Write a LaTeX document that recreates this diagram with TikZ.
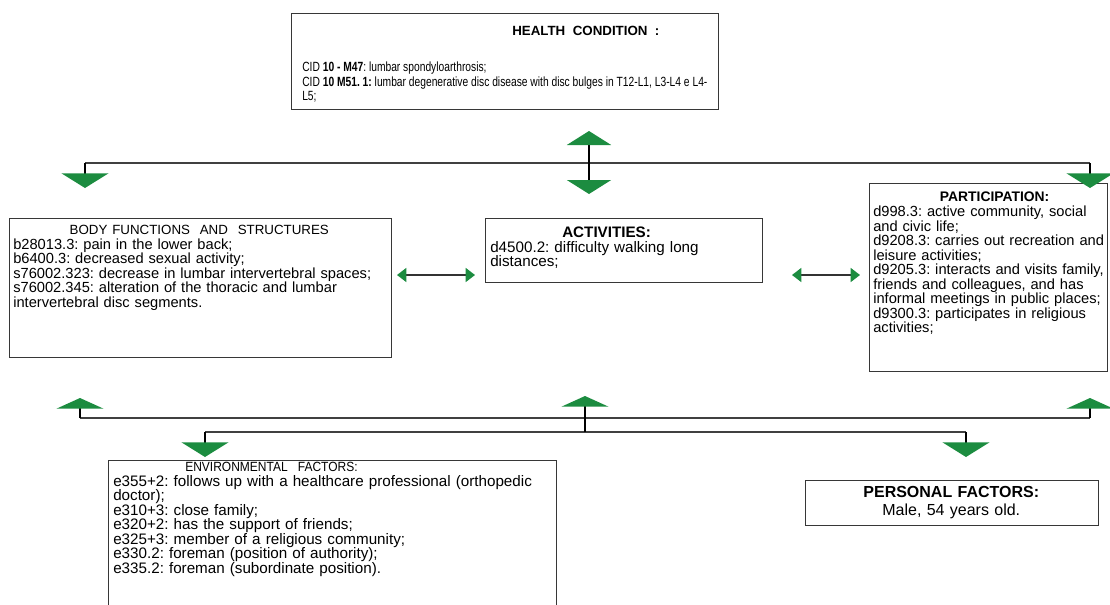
\documentclass[tikz,border=0pt]{standalone}
\usepackage{fontspec}
\setmainfont{Liberation Sans}
\newfontfamily\narrowsf[FakeStretch=0.77]{Liberation Sans}
\newfontfamily\slimsf[FakeStretch=0.9]{Liberation Sans}
\usetikzlibrary{arrows.meta, positioning}

\definecolor{icfgreen}{RGB}{28,140,64}
\definecolor{boxline}{RGB}{55,55,55}

\begin{document}
\frenchspacing
\begin{tikzpicture}[x=0.75pt, y=-0.75pt,
  box/.style={draw=boxline, line width=0.9pt, anchor=north west, inner sep=0pt},
  txt/.style={anchor=north west, inner sep=0pt, align=left,
              font=\fontsize{11}{10.9}\selectfont},
  link/.style={draw=black!75, line width=0.9pt},
  stem/.style={draw=black, line width=2pt},
  gdown/.style={stem, -{Triangle[width=35pt, length=11pt, color=icfgreen]}},
  gup/.style={stem, -{Triangle[width=35pt, length=8pt, color=icfgreen]}},
  gboth/.style={stem, {Triangle[width=33pt, length=10.5pt, color=icfgreen]}-{Triangle[width=33pt, length=10.5pt, color=icfgreen]}},
  pair/.style={draw=black!80, line width=1.1pt, {Triangle[width=10.5pt, length=7pt, color=icfgreen]}-{Triangle[width=10.5pt, length=7pt, color=icfgreen]}}
]
\useasboundingbox (0,0) rectangle (1110,604);

% boxes
\node[box, minimum width=320.25pt, minimum height=72pt]  (hc)  at (291,13)  {};
\node[box, minimum width=286.5pt,  minimum height=104pt] (bfs) at (9,218)   {};
\node[box, minimum width=207.75pt, minimum height=48pt]  (act) at (485,218) {};
\node[box, minimum width=178.5pt,  minimum height=141pt] (par) at (869,183) {};
\node[box, minimum width=336pt,    minimum height=120pt] (env) at (108,460) {};
\node[box, minimum width=219.75pt, minimum height=33.75pt] (pf) at (805,480) {};

% texts
\node[txt, font=\fontsize{10}{10.9}\selectfont\bfseries] (hc-t) at (512,26) {HEALTH\ \ CONDITION\ \ :};
\node[txt, font=\narrowsf\fontsize{10}{10.8}\selectfont] (hc-x) at (302,62) {CID \textbf{10 - M47}: lumbar spondyloarthrosis;\\
  CID \textbf{10 M51. 1:} lumbar degenerative disc disease with disc bulges in T12-L1, L3-L4 e L4-\\
  L5;};

\node[txt, text width=279pt] (bfs-x) at (13,225) {\makebox[\linewidth]{\fontsize{10}{10.9}\selectfont BODY\ FUNCTIONS\ \ AND\ \ STRUCTURES}\\
  b28013.3: pain in the lower back;\\
  b6400.3: decreased sexual activity;\\
  s76002.323: decrease in lumbar intervertebral spaces;\\
  s76002.345: alteration of the thoracic and lumbar\\
  intervertebral disc segments.};

\node[txt, text width=205pt, font=\fontsize{11.4}{10.9}\selectfont] (act-x) at (490,227) {\hspace*{54pt}\textbf{ACTIVITIES:}\\
  d4500.2: difficulty walking long\\
  distances;};

\node[txt, text width=176pt] (par-x) at (873,192) {\hspace*{50pt}\textbf{\fontsize{10.4}{10.9}\selectfont PARTICIPATION:}\\
  d998.3: active\ community, social\\
  and civic life;\\
  d9208.3: carries out recreation and\\
  leisure activities;\\
  d9205.3: interacts and visits family,\\
  friends and colleagues, and has\\
  informal meetings in public places;\\
  d9300.3: participates in religious\\
  activities;};

\node[txt, text width=330pt, font=\fontsize{11.4}{10.9}\selectfont] (env-x) at (113,462) {\hspace*{54pt}{\slimsf\fontsize{10}{10.9}\selectfont ENVIRONMENTAL\ \ FACTORS:}\\
  e355+2: follows up with a healthcare professional (orthopedic\\
  doctor);\\
  e310+3: close family;\\
  e320+2: has the support of friends;\\
  e325+3: member of a religious community;\\
  e330.2: foreman (position of authority);\\
  e335.2: foreman (subordinate position).};

\node[txt, text width=219pt, align=center, font=\fontsize{12}{13.5}\selectfont] (pf-x) at (805,486) {\textbf{PERSONAL\ FACTORS:}\\
  Male, 54 years old.};

% upper tree
\coordinate (t-l) at (85,163);
\coordinate (t-r) at (1090,163);
\draw[link] (t-l) -- (t-r);
\coordinate (bfs-in) at (85,188);
\coordinate (par-in) at (1090,188);
\coordinate (hc-out) at (589,131);
\coordinate (act-in) at (589,194);
\draw[gdown] (t-l) -- (bfs-in);
\draw[gdown] (t-r) -- (par-in);
\draw[gboth] (hc-out) -- (act-in);

% links between boxes
\coordinate (p1-l) at (397,275);
\coordinate (p1-r) at (475,275);
\coordinate (p2-l) at (792,275);
\coordinate (p2-r) at (860,275);
\draw[pair] (p1-l) -- (p1-r);
\draw[pair] (p2-l) -- (p2-r);

% lower tree
\coordinate (u-l) at (80,418);
\coordinate (u-r) at (1090,418);
\coordinate (w-l) at (205,432);
\coordinate (w-m) at (585,432);
\coordinate (w-r) at (966,432);
\draw[link] (u-l) -- (u-r);
\draw[link] (w-l) -- (w-r);
\coordinate (bfs-out) at (80,398);
\coordinate (par-out) at (1090,398);
\coordinate (act-out) at (585,396);
\coordinate (env-in) at (205,457);
\coordinate (pf-in) at (966,457);
\draw[gup] (u-l) -- (bfs-out);
\draw[gup] (u-r) -- (par-out);
\draw[gup] (w-m) -- (act-out);
\draw[gdown] (w-l) -- (env-in);
\draw[gdown] (w-r) -- (pf-in);
\end{tikzpicture}
\end{document}
